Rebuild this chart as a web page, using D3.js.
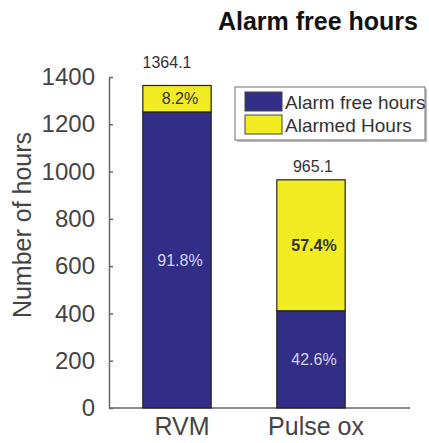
<!DOCTYPE html>
<html>
<head>
<meta charset="utf-8">
<script src="https://cdn.jsdelivr.net/npm/d3@7"></script>
<style>
  html, body { margin: 0; padding: 0; background: #fff; }
  svg { display: block; font-family: "Liberation Sans", Arial, sans-serif; }
</style>
</head>
<body>
<svg id="chart" width="429" height="443"></svg>
<script>
// ---- data ----
const categories = ["RVM", "Pulse ox"];
const totals = [1364.1, 965.1];
const alarmFreePct = [91.8, 42.6];
const alarmedPct = [8.2, 57.4];
const seriesNames = ["Alarm free hours", "Alarmed Hours"];
const yTicks = [0, 200, 400, 600, 800, 1000, 1200, 1400];
const titleText = "Alarm free hours";
const yLabel = "Number of hours";

// ---- layout ----
const svg = d3.select("#chart");
const colors = ["#322d87", "#f1ed22"];
const plot = { left: 109, right: 410, top: 77, bottom: 408 };

const x = d3.scaleBand().domain(categories)
  .range([110, 378]).paddingInner(0.49).paddingOuter(0.245);
const y = d3.scaleLinear().domain([0, 1400]).range([plot.bottom, plot.top]);

// stacked data
const rows = categories.map((c, i) => {
  const free = totals[i] * alarmFreePct[i] / 100;
  const alarmed = totals[i] - free;
  return { cat: c, total: totals[i], segs: [
    { s: 0, y0: 0, y1: free, pct: alarmFreePct[i] },
    { s: 1, y0: free, y1: free + alarmed, pct: alarmedPct[i] }
  ]};
});

// title
svg.append("text")
  .attr("x", 418).attr("y", 30)
  .attr("text-anchor", "end")
  .attr("font-size", 25).attr("font-weight", "bold").attr("fill", "#111")
  .text(titleText);

// y axis
const yAxis = d3.axisLeft(y).tickValues(yTicks).tickFormat(d3.format("d"))
  .tickSizeInner(-4).tickSizeOuter(0).tickPadding(14);
const gy = svg.append("g").attr("transform", `translate(${plot.left},0)`).call(yAxis);
gy.select(".domain").attr("stroke", "#666").attr("stroke-width", 1.5);
gy.selectAll(".tick line").attr("stroke", "#666").attr("stroke-width", 1.5);
gy.selectAll(".tick text").attr("font-size", 24).attr("fill", "#444")
  .attr("font-family", "Liberation Sans, Arial, sans-serif");

// x axis
const xAxis = d3.axisBottom(x).tickSize(0).tickPadding(9);
const gx = svg.append("g").attr("transform", `translate(0,${plot.bottom})`).call(xAxis);
gx.select(".domain").remove();
gx.selectAll(".tick text").attr("font-size", 25).attr("fill", "#444")
  .attr("dx", 5).attr("font-family", "Liberation Sans, Arial, sans-serif");
svg.append("line")
  .attr("x1", plot.left).attr("x2", plot.right)
  .attr("y1", plot.bottom).attr("y2", plot.bottom)
  .attr("stroke", "#666").attr("stroke-width", 1.5);

// y label
svg.append("text")
  .attr("transform", `translate(31,225) rotate(-90)`)
  .attr("text-anchor", "middle")
  .attr("font-size", 25).attr("fill", "#444")
  .text(yLabel);

// bars
const g = svg.append("g");
rows.forEach(r => {
  r.segs.forEach(sg => {
    g.append("rect")
      .attr("x", x(r.cat)).attr("width", x.bandwidth())
      .attr("y", y(sg.y1)).attr("height", y(sg.y0) - y(sg.y1))
      .attr("fill", colors[sg.s])
      .attr("stroke", "#222").attr("stroke-width", 1.2);
  });
});

// percent labels
rows.forEach(r => {
  r.segs.forEach(sg => {
    g.append("text")
      .attr("x", x(r.cat) + x.bandwidth() / 2 + 3)
      .attr("y", (y(sg.y0) + y(sg.y1)) / 2)
      .attr("dy", "0.35em")
      .attr("text-anchor", "middle")
      .attr("font-size", 16)
      .attr("font-weight", sg.s === 1 && sg.pct > 50 ? "bold" : "normal")
      .attr("fill", sg.s === 0 ? "#d4d4ee" : "#333")
      .text(sg.pct.toFixed(1) + "%");
  });
});

// total labels
rows.forEach((r, i) => {
  g.append("text")
    .attr("x", x(r.cat) + x.bandwidth() / 2 - (i === 0 ? 10 : -2))
    .attr("y", y(r.total) - (i === 0 ? 17 : 8))
    .attr("text-anchor", "middle")
    .attr("font-size", 16).attr("fill", "#333")
    .text(r.total.toFixed(1));
});

// legend
const lg = svg.append("g").attr("transform", "translate(235,87)");
lg.append("rect").attr("x", 2).attr("y", 2).attr("width", 190).attr("height", 53)
  .attr("fill", "#bbb");
lg.append("rect").attr("x", 0).attr("y", 0).attr("width", 190).attr("height", 53)
  .attr("fill", "#fff").attr("stroke", "#888").attr("stroke-width", 1.2);
seriesNames.forEach((name, i) => {
  lg.append("rect").attr("x", 10).attr("y", 5 + i * 23)
    .attr("width", 37).attr("height", 19)
    .attr("fill", colors[i]).attr("stroke", "#444").attr("stroke-width", 1);
  lg.append("text").attr("x", 50).attr("y", 22 + i * 23)
    .attr("font-size", 19).attr("fill", "#333")
    .text(name);
});
</script>
</body>
</html>
